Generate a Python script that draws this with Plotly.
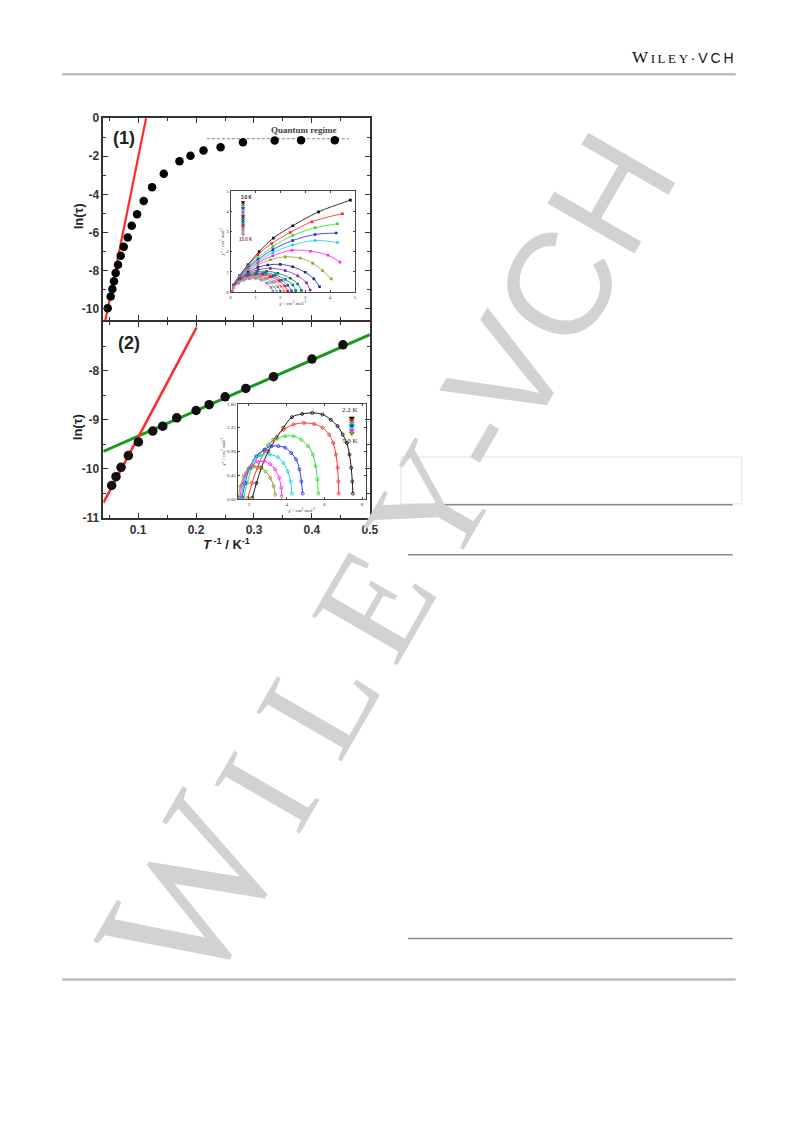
import numpy as np
import plotly.graph_objects as go

PAGE_MARGIN = 8          # default body margin of the html page
W_PX, H_PX = 793 - 2 * PAGE_MARGIN, 1121 - 2 * PAGE_MARGIN
# measured page -> photo mapping (photo = S * page + O); used to place things where the reference has them
S_X, O_X = 0.985, 1.0
S_Y, O_Y = 0.988, 5.9

# ---------------- Panel (1): ln(tau) vs 1/T ----------------
inv_T_1 = [0.0475, 0.0527, 0.0556, 0.0584, 0.0613, 0.0654, 0.070, 0.0752, 0.0821, 0.089, 0.0982,
           0.1097, 0.1241, 0.1443, 0.1714, 0.1904, 0.2129, 0.2423, 0.2809, 0.3357, 0.3812, 0.4394]
ln_tau_1 = [-9.97, -9.36, -8.96, -8.56, -8.12, -7.69, -7.22, -6.75, -6.26, -5.65, -5.04,
            -4.35, -3.62, -2.92, -2.26, -1.97, -1.70, -1.53, -1.27, -1.17, -1.16, -1.16]
fit1_slope, fit1_icpt = 150.8, -17.16
fit1_range = [0.0435, 0.1138]
quantum_level = -1.08
quantum_range = [0.2187, 0.4636]

# ---------------- Panel (2) ----------------
inv_T_2 = [0.0544, 0.0619, 0.0706, 0.0832, 0.1005, 0.1253, 0.1425, 0.1667, 0.2001, 0.2226,
           0.2502, 0.2859, 0.3337, 0.4000, 0.4535]
ln_tau_2 = [-10.34, -10.16, -9.97, -9.73, -9.45, -9.23, -9.13, -8.96, -8.81, -8.69,
            -8.53, -8.36, -8.12, -7.76, -7.47]
fit2_red_slope, fit2_red_icpt = 22.25, -11.585
fit2_red_range = [0.04, 0.2007]
fit2_green_slope, fit2_green_icpt = 5.18, -9.851
fit2_green_range = [0.04, 0.5]

# ---------------- Inset (1): Cole-Cole, 3.0 K .. 15.0 K ----------------
inset1_colors = ["#000000", "#ff1a1a", "#22dd22", "#2020ff", "#10d0e0", "#ff20ff", "#a0a020",
                 "#202090", "#9020b0", "#008040", "#0a7a8a", "#3050c0", "#d02020", "#ff7080",
                 "#909090", "#60d0d0", "#e070a0"]
inset1_x = [
    [0.06, 0.12, 0.35, 0.7, 1.15, 1.72, 2.5, 3.54, 4.82],
    [0.06, 0.12, 0.35, 0.7, 1.1, 1.65, 2.4, 3.27, 4.5],
    [0.06, 0.12, 0.35, 0.7, 1.1, 1.7, 2.5, 3.4, 4.3],
    [0.06, 0.12, 0.35, 0.7, 1.1, 1.7, 2.5, 3.4, 4.25],
    [0.06, 0.12, 0.35, 0.7, 1.1, 1.7, 2.5, 3.4, 4.3],
    [0.06, 0.12, 0.35, 0.7, 1.1, 1.7, 2.47, 3.21, 3.92, 4.4],
    [0.06, 0.12, 0.35, 0.7, 1.1, 1.6, 2.2, 2.8, 3.3, 3.7, 4.05],
    [0.06, 0.12, 0.35, 0.7, 1.1, 1.5, 2.0, 2.5, 3.0, 3.35, 3.58],
    [0.06, 0.12, 0.35, 0.7, 1.1, 1.6, 2.2, 2.7, 3.05, 3.2],
    [0.06, 0.12, 0.35, 0.7, 1.05, 1.45, 1.9, 2.4, 2.7, 2.85],
    [0.06, 0.12, 0.35, 0.7, 1.05, 1.4, 1.8, 2.2, 2.5, 2.62],
    [0.06, 0.12, 0.35, 0.65, 1.0, 1.3, 1.7, 2.05, 2.3, 2.45],
    [0.06, 0.12, 0.33, 0.6, 0.95, 1.25, 1.6, 1.95, 2.18, 2.3],
    [0.06, 0.12, 0.33, 0.6, 0.9, 1.2, 1.5, 1.8, 2.03, 2.15],
    [0.06, 0.12, 0.32, 0.58, 0.85, 1.12, 1.4, 1.68, 1.9, 2.0],
    [0.06, 0.12, 0.3, 0.55, 0.8, 1.05, 1.3, 1.55, 1.75, 1.85],
    [0.06, 0.12, 0.3, 0.52, 0.76, 1.0, 1.22, 1.45, 1.62, 1.7],
]
inset1_y = [
    [0.02, 0.35, 0.8, 1.35, 2.0, 2.67, 3.28, 3.97, 4.55],
    [0.02, 0.35, 0.78, 1.3, 1.85, 2.4, 2.95, 3.48, 3.88],
    [0.02, 0.34, 0.76, 1.25, 1.7, 2.25, 2.8, 3.18, 3.38],
    [0.02, 0.33, 0.74, 1.2, 1.6, 2.1, 2.55, 2.85, 2.92],
    [0.02, 0.33, 0.72, 1.15, 1.52, 1.95, 2.33, 2.55, 2.45],
    [0.02, 0.32, 0.7, 1.1, 1.45, 1.8, 2.07, 2.02, 1.82, 1.48],
    [0.02, 0.31, 0.68, 1.05, 1.35, 1.6, 1.74, 1.68, 1.43, 1.06, 0.65],
    [0.02, 0.3, 0.65, 0.98, 1.22, 1.34, 1.37, 1.25, 0.98, 0.65, 0.26],
    [0.02, 0.29, 0.62, 0.92, 1.1, 1.17, 1.06, 0.8, 0.46, 0.1],
    [0.02, 0.28, 0.6, 0.87, 1.0, 1.03, 0.93, 0.68, 0.4, 0.08],
    [0.02, 0.27, 0.57, 0.82, 0.93, 0.95, 0.85, 0.62, 0.35, 0.07],
    [0.02, 0.26, 0.55, 0.78, 0.88, 0.9, 0.8, 0.58, 0.33, 0.06],
    [0.02, 0.25, 0.52, 0.73, 0.83, 0.85, 0.76, 0.55, 0.3, 0.05],
    [0.02, 0.24, 0.5, 0.7, 0.79, 0.8, 0.71, 0.52, 0.28, 0.05],
    [0.02, 0.23, 0.47, 0.66, 0.74, 0.75, 0.67, 0.49, 0.26, 0.05],
    [0.02, 0.22, 0.45, 0.62, 0.7, 0.71, 0.63, 0.46, 0.25, 0.05],
    [0.02, 0.21, 0.42, 0.58, 0.66, 0.67, 0.6, 0.43, 0.23, 0.05],
]
inset1_ticks = [0, 1, 2, 3, 4, 5]

# ---------------- Inset (2): Cole-Cole, 2.2 K .. 5.0 K ----------------
inset2_colors = ["#000000", "#ff2020", "#20dd20", "#2020ff", "#10d0e0", "#ff20ff", "#909020"]
inset2_x = [
    [2.18, 2.4, 2.66, 3.02, 3.47, 3.83, 4.28, 4.82, 5.36, 5.9, 6.34, 6.7, 6.97, 7.19, 7.33, 7.42, 7.48, 7.51],
    [1.95, 2.16, 2.45, 2.84, 3.29, 3.83, 4.37, 4.91, 5.45, 5.9, 6.25, 6.47, 6.61, 6.7, 6.74, 6.76],
    [1.73, 1.91, 2.16, 2.57, 3.02, 3.47, 3.92, 4.37, 4.78, 5.14, 5.39, 5.54, 5.63, 5.68],
    [1.64, 1.8, 2.04, 2.39, 2.81, 3.2, 3.56, 3.92, 4.24, 4.5, 4.68, 4.78, 4.85],
    [1.59, 1.73, 1.95, 2.27, 2.66, 3.11, 3.53, 3.83, 4.06, 4.21, 4.28],
    [1.52, 1.64, 1.86, 2.16, 2.48, 2.81, 3.11, 3.38, 3.6, 3.71, 3.74],
    [1.44, 1.55, 1.73, 1.98, 2.27, 2.57, 2.88, 3.13, 3.31, 3.4],
]
inset2_y = [
    [0.02, 0.3, 0.59, 0.9, 1.16, 1.35, 1.55, 1.61, 1.63, 1.6, 1.5, 1.38, 1.22, 1.06, 0.84, 0.59, 0.33, 0.1],
    [0.02, 0.3, 0.59, 0.9, 1.12, 1.31, 1.41, 1.44, 1.42, 1.35, 1.22, 1.06, 0.84, 0.59, 0.33, 0.1],
    [0.02, 0.3, 0.59, 0.84, 1.03, 1.14, 1.19, 1.19, 1.12, 1.0, 0.84, 0.62, 0.37, 0.1],
    [0.02, 0.3, 0.59, 0.81, 0.93, 1.0, 1.0, 0.97, 0.87, 0.75, 0.56, 0.33, 0.1],
    [0.02, 0.3, 0.56, 0.73, 0.82, 0.84, 0.79, 0.68, 0.52, 0.33, 0.1],
    [0.02, 0.27, 0.49, 0.64, 0.7, 0.71, 0.66, 0.56, 0.4, 0.21, 0.05],
    [0.02, 0.24, 0.43, 0.57, 0.62, 0.6, 0.52, 0.4, 0.24, 0.08],
]
inset2_yticks = [0.0, 0.45, 0.90, 1.35, 1.80]
inset2_yticktext = ["0.00", "0.45", "0.90", "1.35", "1.80"]
inset2_xticks = [2, 4, 6, 8]

# main ticks
top_yticks = [0, -2, -4, -6, -8, -10]
top_yticktext = ["0", "-2", "-4", "-6", "-8", "-10"]
bot_yticks = [-8, -9, -10, -11]
bot_yticktext = ["-8", "-9", "-10", "-11"]
x_ticks = [0.1, 0.2, 0.3, 0.4, 0.5]
x_ticktext = ["0.1", "0.2", "0.3", "0.4", "0.5"]

# watermark letters: big W + small caps ILEY, sans VCH (as the logo), placed along a 60 deg diagonal
wm_letters = ["W", "I", "L", "E", "Y", "-", "V", "C", "H"]
wm_family = ["Liberation Serif"] * 6 + ["Liberation Sans"] * 3
wm_size = [190, 150, 150, 150, 150, 150, 146, 146, 146]
wm_along = [-679, -552, -447, -336, -222, -141, -70, 31, 138]
WM_ANGLE, WM_BASE = 60.0, 675.0


def px_x(p):
    """target photo pixel (from left) -> paper fraction"""
    return ((p - O_X) / S_X - PAGE_MARGIN) / W_PX


def px_y(p):
    """target photo pixel (from top) -> paper fraction"""
    return 1 - ((p - O_Y) / S_Y - PAGE_MARGIN) / H_PX


fig = go.Figure()

# ---- panel 1 traces
fx = np.array(fit1_range)
fig.add_trace(go.Scatter(x=fx, y=fit1_slope * fx + fit1_icpt, mode="lines",
                         line=dict(color="#ff2a2a", width=2.2), xaxis="x", yaxis="y"))
fig.add_trace(go.Scatter(x=quantum_range, y=[quantum_level] * 2, mode="lines",
                         line=dict(color="#777777", width=0.9, dash="3px,2px"), xaxis="x", yaxis="y"))
fig.add_trace(go.Scatter(x=inv_T_1, y=ln_tau_1, mode="markers",
                         marker=dict(color="#000000", size=8.5), xaxis="x", yaxis="y"))

# ---- panel 2 traces
gx = np.array(fit2_green_range)
fig.add_trace(go.Scatter(x=gx, y=fit2_green_slope * gx + fit2_green_icpt, mode="lines",
                         line=dict(color="#1a9a1a", width=3), xaxis="x2", yaxis="y2"))
rx = np.array(fit2_red_range)
fig.add_trace(go.Scatter(x=rx, y=fit2_red_slope * rx + fit2_red_icpt, mode="lines",
                         line=dict(color="#ff2a2a", width=2.5), xaxis="x2", yaxis="y2"))
fig.add_trace(go.Scatter(x=inv_T_2, y=ln_tau_2, mode="markers",
                         marker=dict(color="#111111", size=9.5), xaxis="x2", yaxis="y2"))

# ---- inset 1
for c, xs, ys in zip(inset1_colors, inset1_x, inset1_y):
    fig.add_trace(go.Scatter(x=xs, y=ys, mode="lines+markers", line=dict(color=c, width=0.8, shape="spline"),
                             marker=dict(color=c, size=2.6, symbol="square"), xaxis="x3", yaxis="y3"))
n1 = len(inset1_colors)
fig.add_trace(go.Scatter(x=[0.5] * n1, y=np.linspace(4.45, 2.85, n1), mode="markers",
                         marker=dict(color=inset1_colors, size=4, symbol="triangle-down"),
                         xaxis="x3", yaxis="y3"))

# ---- inset 2
for c, xs, ys in zip(inset2_colors, inset2_x, inset2_y):
    fig.add_trace(go.Scatter(x=xs, y=ys, mode="lines+markers", line=dict(color=c, width=0.9, shape="spline"),
                             marker=dict(color=c, size=3, symbol="circle-open", line=dict(width=0.8)),
                             xaxis="x4", yaxis="y4"))
n2 = len(inset2_colors)
fig.add_trace(go.Scatter(x=[7.45] * n2, y=np.linspace(1.53, 1.24, n2), mode="markers",
                         marker=dict(color=inset2_colors, size=5.5, symbol="triangle-down"),
                         xaxis="x4", yaxis="y4"))

ax_col = "#333333"
LW = 1.6
tickfont = dict(family="Liberation Sans", size=12, color="#333333", weight="bold")
main_ax = dict(showline=True, linecolor=ax_col, linewidth=LW, mirror="allticks", ticks="inside",
               ticklen=5, tickwidth=1.3, tickcolor=ax_col, showgrid=False, zeroline=False,
               tickfont=tickfont)
xdom = [px_x(103), px_x(369)]
# the two panels share one frame line at y = 320 px
top_dom = [px_y(320 - LW / 2), px_y(117)]
bot_dom = [px_y(517), px_y(320 + LW / 2)]

fig.update_layout(
    width=W_PX, height=H_PX, autosize=False, margin=dict(l=0, r=0, t=0, b=0),
    paper_bgcolor="white", plot_bgcolor="rgba(0,0,0,0)", showlegend=False,
    xaxis=dict(main_ax, domain=xdom, anchor="y", range=[0.04, 0.5], tickvals=x_ticks,
               showticklabels=False,
               minor=dict(ticks="inside", ticklen=3, dtick=0.05, tick0=0.05, tickcolor=ax_col)),
    yaxis=dict(main_ax, domain=top_dom, anchor="x", range=[-10.6, 0],
               tickvals=top_yticks, ticktext=top_yticktext,
               minor=dict(ticks="inside", ticklen=3, dtick=1, tick0=0, tickcolor=ax_col)),
    xaxis2=dict(main_ax, domain=xdom, anchor="y2", range=[0.04, 0.5], tickvals=x_ticks,
                ticktext=x_ticktext,
                minor=dict(ticks="inside", ticklen=3, dtick=0.05, tick0=0.05, tickcolor=ax_col)),
    yaxis2=dict(main_ax, domain=bot_dom, anchor="x2", range=[-11, -7],
                tickvals=bot_yticks, ticktext=bot_yticktext,
                minor=dict(ticks="inside", ticklen=3, dtick=0.5, tick0=0, tickcolor=ax_col)),
)

in_ax = dict(showline=True, linecolor="#444444", linewidth=0.8, mirror="allticks", ticks="inside",
             ticklen=2, tickwidth=0.6, tickcolor="#444444", showgrid=False, zeroline=False,
             tickfont=dict(family="Liberation Serif", size=5, color="#333333"))
ttl_font = dict(family="Liberation Serif", size=5, color="#333")
fig.update_layout(
    xaxis3=dict(in_ax, domain=[px_x(230), px_x(354)], anchor="y3", range=[0, 5], tickvals=inset1_ticks,
                title=dict(text="<i>χ'</i> / cm<sup>3</sup> mol<sup>-1</sup>", standoff=1, font=ttl_font)),
    yaxis3=dict(in_ax, domain=[px_y(291), px_y(190)], anchor="x3", range=[0, 5], tickvals=inset1_ticks,
                title=dict(text="<i>χ''</i> / cm<sup>3</sup> mol<sup>-1</sup>", standoff=1, font=ttl_font)),
    xaxis4=dict(in_ax, domain=[px_x(237), px_x(365)], anchor="y4", range=[1.4, 8.2], tickvals=inset2_xticks,
                title=dict(text="<i>χ'</i> / cm<sup>3</sup> mol<sup>-1</sup>", standoff=1, font=ttl_font)),
    yaxis4=dict(in_ax, domain=[px_y(498), px_y(403)], anchor="x4", range=[0, 1.8], tickvals=inset2_yticks,
                ticktext=inset2_yticktext,
                title=dict(text="<i>χ''</i> / cm<sup>3</sup> mol<sup>-1</sup>", standoff=1, font=ttl_font)),
)

C = dict(xanchor="center", yanchor="middle", showarrow=False)
ann = []

# watermark (first, so that every other text is drawn over it)
ca, sa = np.cos(np.radians(WM_ANGLE)), np.sin(np.radians(WM_ANGLE))
for ch, fam, sz, a in zip(wm_letters, wm_family, wm_size, wm_along):
    k = 0.3375 if "Serif" in fam else 0.3465       # text-box centre above the baseline (em)
    perp = WM_BASE - k * sz
    cx = a * ca + perp * sa
    cy = -a * sa + perp * ca
    ann.append(dict(C, text=ch, x=px_x(cx), y=px_y(cy), xref="paper", yref="paper",
                    textangle=-WM_ANGLE, font=dict(family=fam, size=sz, color="#d1d3d1")))

ann.append(dict(C, text="(1)", x=0.075, y=-1.05, xref="x", yref="y",
                font=dict(family="Liberation Sans", size=18, color="#222", weight="bold")))
ann.append(dict(C, text="Quantum regime", x=0.386, y=-0.62, xref="x", yref="y",
                font=dict(family="Liberation Serif", size=9, color="#444", weight="bold")))
ann.append(dict(C, text="(2)", x=0.084, y=-7.43, xref="x2", yref="y2",
                font=dict(family="Liberation Sans", size=18, color="#222", weight="bold")))
for yc in (215, 426):
    ann.append(dict(C, text="ln(τ)", x=px_x(78), y=px_y(yc), xref="paper", yref="paper",
                    textangle=-90, font=dict(family="Liberation Sans", size=13, color="#222", weight="bold")))
ann.append(dict(C, text="<i>T</i><sup> -1</sup> / K<sup>-1</sup>", x=px_x(226), y=px_y(543), xref="paper",
                yref="paper", font=dict(family="Liberation Sans", size=13, color="#222", weight="bold")))
ann.append(dict(C, text="3.0 K", x=0.68, y=4.68, xref="x3", yref="y3",
                font=dict(family="Liberation Sans", size=4.5, color="#222", weight="bold")))
ann.append(dict(C, text="15.0 K", x=0.62, y=2.62, xref="x3", yref="y3",
                font=dict(family="Liberation Sans", size=4.5, color="#aa3355", weight="bold")))
ann.append(dict(C, text="2.2 K", x=7.35, y=1.68, xref="x4", yref="y4",
                font=dict(family="Liberation Serif", size=7, color="#222")))
ann.append(dict(C, text="5.0 K", x=7.35, y=1.10, xref="x4", yref="y4",
                font=dict(family="Liberation Serif", size=7, color="#222")))

# header logo
ann.append(dict(text="<span style='font-family:Liberation Serif;font-size:17px'>W</span>"
                     "<span style='font-family:Liberation Serif;font-size:13px'>\u2009I\u2009L\u2009E\u2009Y</span>"
                     "<span style='font-family:Liberation Sans;font-size:14px'>\u2009\u00b7\u2009V\u2009C\u2009H</span>",
                x=px_x(734), y=px_y(56), xref="paper", yref="paper", xanchor="right", yanchor="middle",
                showarrow=False, font=dict(color="#111", size=13)))
fig.update_layout(annotations=ann)

shapes = [
    dict(type="line", xref="paper", yref="paper", x0=px_x(62), x1=px_x(734), y0=px_y(73), y1=px_y(73),
         line=dict(color="#bdbdbd", width=2.5)),
    dict(type="line", xref="paper", yref="paper", x0=px_x(62), x1=px_x(734), y0=px_y(979), y1=px_y(979),
         line=dict(color="#bdbdbd", width=2.5)),
    dict(type="rect", xref="paper", yref="paper", x0=px_x(400), x1=px_x(740), y0=px_y(503), y1=px_y(456),
         line=dict(color="#e3e3e3", width=1)),
    dict(type="line", xref="paper", yref="paper", x0=px_x(407), x1=px_x(731), y0=px_y(504), y1=px_y(504),
         line=dict(color="#8a8a8a", width=1.5)),
    dict(type="line", xref="paper", yref="paper", x0=px_x(407), x1=px_x(731), y0=px_y(554), y1=px_y(554),
         line=dict(color="#8a8a8a", width=1.5)),
    dict(type="line", xref="paper", yref="paper", x0=px_x(407), x1=px_x(731), y0=px_y(938), y1=px_y(938),
         line=dict(color="#8a8a8a", width=1.5)),
]
fig.update_layout(shapes=shapes)

fig.write_html("out.html", config={"displayModeBar": False})
